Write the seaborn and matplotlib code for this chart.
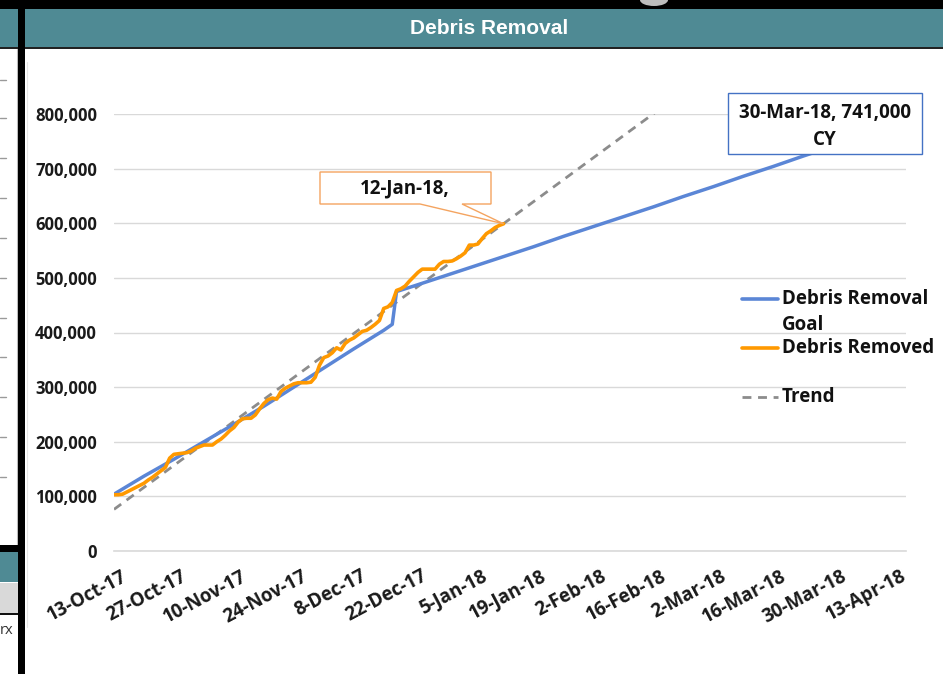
import numpy as np
import pandas as pd
import matplotlib
matplotlib.use("Agg")
import matplotlib.pyplot as plt
import matplotlib.dates as mdates
import matplotlib.transforms as mtransforms
from matplotlib.patches import Rectangle, Polygon, Ellipse
from matplotlib.lines import Line2D
import seaborn as sns

# ---------------- data ----------------
goal_dates = ["2017-10-13", "2017-10-20", "2017-10-27", "2017-11-03", "2017-11-10",
              "2017-11-17", "2017-11-24", "2017-12-01", "2017-12-08", "2017-12-15",
              "2017-12-17", "2017-12-18", "2017-12-22", "2017-12-29", "2018-01-05",
              "2018-01-12", "2018-01-19", "2018-01-26", "2018-02-02", "2018-02-09",
              "2018-02-16", "2018-02-23", "2018-03-02", "2018-03-09", "2018-03-16",
              "2018-03-23", "2018-03-30"]
goal_values = [104000, 137000, 168000, 200000, 232000,
               265000, 300000, 335000, 370000, 404000,
               415000, 475000, 485000, 503000, 521000,
               539000, 557000, 576000, 594000, 612000,
               630000, 649000, 667000, 686000, 704000,
               723000, 741000]

removed_start = "2017-10-13"
removed_values = [103000, 103000, 104000, 108000, 112000, 116000, 120000, 124000, 130000, 135000,
                  141000, 147000, 153000, 170000, 177000, 178000, 179000, 180000, 183000, 188000,
                  191000, 194000, 194000, 194000, 200000, 205000, 212000, 220000, 226000, 236000,
                  242000, 243000, 243000, 249000, 260000, 270000, 277000, 280000, 278000, 292000,
                  298000, 302000, 306000, 308000, 308000, 308000, 309000, 318000, 340000, 354000,
                  357000, 363000, 372000, 368000, 380000, 386000, 390000, 396000, 402000, 404000,
                  409000, 415000, 422000, 444000, 447000, 455000, 477000, 480000, 485000, 494000,
                  502000, 510000, 516000, 516000, 516000, 516000, 525000, 530000, 530000, 531000,
                  535000, 540000, 546000, 560000, 560000, 562000, 572000, 581000, 586000, 592000,
                  596000, 599000]

tick_dates = ["2017-10-13", "2017-10-27", "2017-11-10", "2017-11-24", "2017-12-08",
              "2017-12-22", "2018-01-05", "2018-01-19", "2018-02-02", "2018-02-16",
              "2018-03-02", "2018-03-16", "2018-03-30", "2018-04-13"]
tick_labels = ["13-Oct-17", "27-Oct-17", "10-Nov-17", "24-Nov-17", "8-Dec-17",
               "22-Dec-17", "5-Jan-18", "19-Jan-18", "2-Feb-18", "16-Feb-18",
               "2-Mar-18", "16-Mar-18", "30-Mar-18", "13-Apr-18"]
y_ticks = [0, 100000, 200000, 300000, 400000, 500000, 600000, 700000, 800000]
y_labels = ["0", "100,000", "200,000", "300,000", "400,000", "500,000", "600,000",
            "700,000", "800,000"]

series_names = ["Debris Removal\nGoal", "Debris Removed", "Trend"]
callout_goal = ["30-Mar-18, 741,000", "CY"]
callout_removed = "12-Jan-18,"
title = "Debris Removal"

# ---------------- frames ----------------
goal_df = pd.DataFrame({"date": pd.to_datetime(goal_dates), "value": goal_values})
removed_df = pd.DataFrame({"date": pd.date_range(removed_start, periods=len(removed_values), freq="D"),
                           "value": removed_values})

# ---------------- style ----------------
sns.set_style("white")
plt.rcParams["font.family"] = ["Open Sans", "DejaVu Sans"]

W, H = 943, 674
fig = plt.figure(figsize=(W / 100, H / 100), dpi=100)
fig.patch.set_facecolor("white")


def px_rect(x0, y0, x1, y1, color, z=1):
    fig.patches.append(Rectangle((x0 / W, 1 - y1 / H), (x1 - x0) / W, (y1 - y0) / H,
                                 transform=fig.transFigure, facecolor=color,
                                 edgecolor="none", zorder=z))


def px_line(x0, y0, x1, y1, color, lw=1.0, z=1, ls="-"):
    fig.lines.append(Line2D([x0 / W, x1 / W], [1 - y0 / H, 1 - y1 / H], transform=fig.transFigure,
                            color=color, lw=lw, zorder=z, ls=ls))


BLUE = "#5b86d6"
ORANGE = "#ff9900"
GRAY = "#8c8c8c"
TEAL = "#4f8a94"

ax_left, ax_right, ax_top, ax_bottom = 114, 906, 114, 551
ax = fig.add_axes([ax_left / W, 1 - ax_bottom / H, (ax_right - ax_left) / W, (ax_bottom - ax_top) / H])
ax.set_facecolor("none")

sns.lineplot(data=goal_df, x="date", y="value", ax=ax, color=BLUE, lw=2.5, legend=False,
             zorder=3)
sns.lineplot(data=removed_df, x="date", y="value", ax=ax, color=ORANGE, lw=2.6, legend=False,
             zorder=4)

xmin = mdates.date2num(pd.Timestamp("2017-10-13"))
xmax = mdates.date2num(pd.Timestamp("2018-04-16"))
ax.set_xlim(xmin, xmax)

# linear trend of the removed series, extended across the axis (Excel-like trendline)
sns.regplot(x=mdates.date2num(removed_df["date"]), y=removed_df["value"].to_numpy(dtype=float),
            ax=ax, scatter=False, ci=None, truncate=False,
            line_kws=dict(color=GRAY, lw=2.0, ls=(0, (3.2, 2.4)), zorder=2))

ax.set_xlim(xmin, xmax)
ax.set_ylim(0, 800000)

ax.set_yticks(y_ticks)
ax.set_yticklabels(y_labels)
ax.set_xticks(mdates.date2num(pd.to_datetime(tick_dates)))
ax.set_xticklabels(tick_labels)
ax.set_xlabel("")
ax.set_ylabel("")

ax.grid(axis="y", color="#d9d9d9", lw=1.0)
ax.grid(axis="x", visible=False)
ax.set_axisbelow(True)
for s in ["left", "right", "top"]:
    ax.spines[s].set_visible(False)
ax.spines["bottom"].set_color("#d9d9d9")
ax.spines["bottom"].set_linewidth(1.2)

ax.tick_params(axis="y", length=0, pad=12.3, labelsize=12)
ax.tick_params(axis="x", direction="in", length=5, color="#d9d9d9", width=1.2, pad=11,
               labelsize=13.5)
for t in ax.get_yticklabels():
    t.set_fontweight("bold")
    t.set_color("#1a1a1a")
shift = mtransforms.ScaledTranslation(7 / 100, 0, fig.dpi_scale_trans)
for t in ax.get_xticklabels():
    t.set_fontweight("bold")
    t.set_color("#1a1a1a")
    t.set_rotation(28)
    t.set_ha("right")
    t.set_va("top")
    t.set_rotation_mode("anchor")
    t.set_transform(t.get_transform() + shift)

# ---------------- surrounding spreadsheet decorations ----------------
px_rect(0, 0, W, 9, "black", z=5)
fig.patches.append(Ellipse((654 / W, 1 - 0 / H), 28 / W, 12 / H, transform=fig.transFigure,
                           facecolor="#bdbdbd", edgecolor="none", zorder=5.5))
px_rect(0, 9, W, 47, TEAL, z=5)
px_rect(0, 47, W, 49, "#222222", z=5)
px_rect(18, 0, 25, H, "black", z=6)
fig.text(489 / W, 1 - 28 / H, title, color="white", fontsize=15, fontweight="bold",
         family=["Liberation Sans", "DejaVu Sans"], ha="center", va="center", zorder=7)
for yy in [80, 118, 158, 198, 238, 278, 318, 357, 397, 437, 477]:
    px_line(0, yy, 6, yy, "#9a9a9a", lw=1.0, z=5)
px_line(17, 49, 17, 545, "#bbbbbb", lw=0.8, z=5)
px_rect(0, 545, 18, 552, "black", z=5)
px_rect(0, 552, 18, 582, TEAL, z=5)
px_rect(0, 583, 18, 613, "#d9d9d9", z=5)
px_rect(0, 613, 18, 615, "#111111", z=5)
fig.text(0, 1 - 631 / H, "rx", fontsize=10.5, color="#333333", ha="left", va="center", zorder=7)
px_line(27, 62, 27, 627, "#e6e6e6", lw=0.8, z=5)

# ---------------- legend ----------------
lx0, lx1, tx = 742, 778, 782
px_line(lx0, 299, lx1, 299, BLUE, lw=2.6, z=6)
fig.text(tx / W, 1 - 299 / H, "Debris Removal", fontsize=13.5, fontweight="bold", color="#111111",
         ha="left", va="center", zorder=7)
fig.text(tx / W, 1 - 325 / H, "Goal", fontsize=13.5, fontweight="bold", color="#111111",
         ha="left", va="center", zorder=7)
px_line(lx0, 348, lx1, 348, ORANGE, lw=2.6, z=6)
fig.text(tx / W, 1 - 348 / H, series_names[1], fontsize=13.5, fontweight="bold", color="#111111",
         ha="left", va="center", zorder=7)
px_line(lx0, 397, lx1, 397, GRAY, lw=2.0, z=6, ls=(0, (3.2, 2.4)))
fig.text(tx / W, 1 - 397 / H, series_names[2], fontsize=13.5, fontweight="bold", color="#111111",
         ha="left", va="center", zorder=7)

# ---------------- callouts ----------------
fig.patches.append(Rectangle((728 / W, 1 - 154 / H), (922 - 728) / W, (154 - 93) / H,
                             transform=fig.transFigure, facecolor="white", edgecolor="#4472c4",
                             lw=1.0, zorder=8))
fig.text(825 / W, 1 - 113 / H, callout_goal[0], fontsize=13.5, fontweight="bold", color="#111111",
         ha="center", va="center", zorder=9)
fig.text(825 / W, 1 - 140 / H, callout_goal[1], fontsize=13.5, fontweight="bold", color="#111111",
         ha="center", va="center", zorder=9)

fig.canvas.draw()
last = removed_df.iloc[-1]
tip = ax.transData.transform((mdates.date2num(last["date"]), last["value"]))
tipx, tipy = tip[0], H - tip[1]
pts = [(320, 172), (491, 172), (491, 204), (462, 204), (tipx, tipy), (420, 204), (320, 204)]
fig.patches.append(Polygon([(x / W, 1 - y / H) for x, y in pts], closed=True,
                           transform=fig.transFigure, facecolor="white", edgecolor="#f4a460",
                           lw=1.0, zorder=8))
fig.text(405 / W, 1 - 188 / H, callout_removed, fontsize=13.5, fontweight="bold", color="#111111",
         ha="center", va="center", zorder=9)

fig.savefig("out.png", dpi=100)
